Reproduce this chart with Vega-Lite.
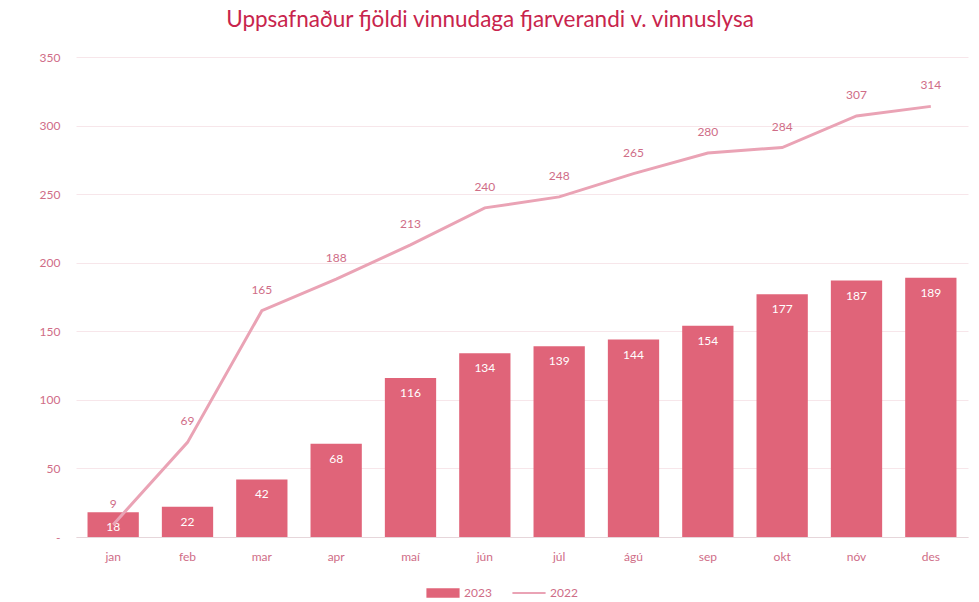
{
  "$schema": "https://vega.github.io/schema/vega-lite/v6.json",
  "autosize": {"type": "none"},
  "width": 892,
  "height": 480,
  "padding": {"left": 76, "top": 57, "right": 11, "bottom": 65},
  "background": "white",
  "config": {
    "font": "Lato",
    "view": {"stroke": null},
    "axis": {"labelFont": "Lato", "labelColor": "#cf6d87", "labelFontSize": 12}
  },
  "title": {
    "text": "Uppsafnaður fjöldi vinnudaga fjarverandi v. vinnuslysa",
    "color": "#c8244c",
    "fontSize": 22.5,
    "fontWeight": "normal",
    "font": "Lato",
    "dx": -32,
    "offset": 20
  },
  "data": {
    "values": [
      {"m": "jan", "y2023": 18, "y2022": 9},
      {"m": "feb", "y2023": 22, "y2022": 69},
      {"m": "mar", "y2023": 42, "y2022": 165},
      {"m": "apr", "y2023": 68, "y2022": 188},
      {"m": "maí", "y2023": 116, "y2022": 213},
      {"m": "jún", "y2023": 134, "y2022": 240},
      {"m": "júl", "y2023": 139, "y2022": 248},
      {"m": "ágú", "y2023": 144, "y2022": 265},
      {"m": "sep", "y2023": 154, "y2022": 280},
      {"m": "okt", "y2023": 177, "y2022": 284},
      {"m": "nóv", "y2023": 187, "y2022": 307},
      {"m": "des", "y2023": 189, "y2022": 314}
    ]
  },
  "encoding": {
    "x": {
      "field": "m", "type": "nominal", "sort": null, "title": null,
      "scale": {"paddingInner": 0.31, "paddingOuter": 0.155},
      "axis": {"labelAngle": 0, "ticks": false, "domainColor": "#e6d6da", "labelPadding": 14, "grid": false}
    }
  },
  "layer": [
    {
      "mark": {"type": "bar", "color": "#e06479"},
      "encoding": {
        "y": {
          "field": "y2023", "type": "quantitative", "title": null,
          "scale": {"domain": [0, 350]},
          "axis": {"values": [0, 50, 100, 150, 200, 250, 300, 350], "labelExpr": "datum.value === 0 ? '-' : datum.label", "ticks": false, "domain": false, "gridColor": "#f7e6ea", "labelPadding": 16}
        },
        "color": {
          "datum": "2023", "type": "nominal",
          "scale": {"domain": ["2023", "2022"], "range": ["#e06479", "#eaa3b5"]},
          "legend": {
            "title": null, "orient": "none", "direction": "horizontal",
            "legendX": 350, "legendY": 519,
            "labelColor": "#cf6d87", "labelFontSize": 12, "labelFont": "Lato",
            "symbolSize": 1100, "columnPadding": 20,
            "encode": {
              "symbols": {"update": {
                "shape": {"signal": "datum.value === '2023' ? 'M-1,-0.28H1V0.28H-1Z' : 'M-1,-0.06H1V0.06H-1Z'"},
                "strokeWidth": {"value": 0}
              }}
            }
          }
        }
      }
    },
    {
      "mark": {"type": "text", "color": "#ffffff", "baseline": "top", "dy": 10, "fontSize": 12},
      "encoding": {
        "y": {"field": "y2023", "type": "quantitative"},
        "text": {"field": "y2023", "type": "quantitative"}
      }
    },
    {
      "mark": {"type": "line", "color": "#eaa3b5", "strokeWidth": 3},
      "encoding": {
        "y": {"field": "y2022", "type": "quantitative"},
        "color": {"datum": "2022", "type": "nominal"}
      }
    },
    {
      "mark": {"type": "text", "color": "#cf6d87", "baseline": "bottom", "dy": -14, "fontSize": 12},
      "encoding": {
        "y": {"field": "y2022", "type": "quantitative"},
        "text": {"field": "y2022", "type": "quantitative"}
      }
    }
  ]
}
